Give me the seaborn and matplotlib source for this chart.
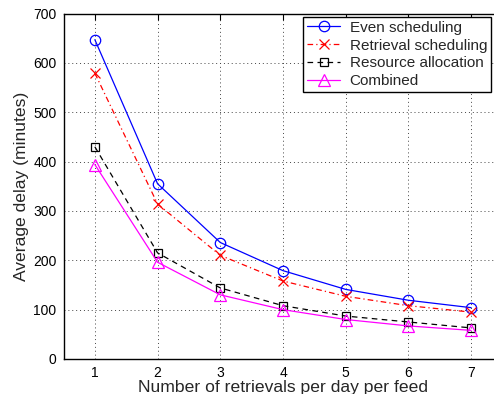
import matplotlib
matplotlib.use("Agg")
import matplotlib.pyplot as plt
import seaborn as sns
import pandas as pd

# Data
retrievals = [1, 2, 3, 4, 5, 6, 7]
even_scheduling = [647, 355, 236, 179, 141, 119, 104]
retrieval_scheduling = [579, 314, 210, 158, 127, 108, 95]
resource_allocation = [430, 215, 144, 108, 87, 75, 63]
combined = [394, 196, 130, 100, 80, 67, 58]
series_names = ["Even scheduling", "Retrieval scheduling", "Resource allocation", "Combined"]
x_ticks = [1, 2, 3, 4, 5, 6, 7]
y_ticks = [0, 100, 200, 300, 400, 500, 600, 700]

sns.set_style("white")
plt.rcParams["font.family"] = ["Liberation Sans", "DejaVu Sans"]

fig = plt.figure(figsize=(4.94, 3.94), dpi=100)
ax = fig.add_axes([63.5 / 494, 35 / 394, 439 / 494, 345.5 / 394])

styles = [
    dict(color=(0, 0, 1), linestyle="-", marker="o", markersize=7.5),
    dict(color=(1, 0, 0), linestyle=(0, (4.5, 2.5, 1, 2.5)), marker="x", markersize=6.5),
    dict(color="black", linestyle=(0, (4.5, 3.5)), marker="s", markersize=6),
    dict(color=(1, 0, 1), linestyle="-", marker="^", markersize=8),
]
values = [even_scheduling, retrieval_scheduling, resource_allocation, combined]

for name, vals, st in zip(series_names, values, styles):
    df = pd.DataFrame({"x": retrievals, "y": vals})
    sns.lineplot(data=df, x="x", y="y", ax=ax, label=name,
                 color=st["color"], linestyle=st["linestyle"], marker=st["marker"],
                 markersize=st["markersize"], markerfacecolor="none",
                 markeredgecolor=st["color"], markeredgewidth=0.9, linewidth=0.9)

ax.set_xlim(0.5, 7.5)
ax.set_ylim(0, 700)
ax.set_xticks(x_ticks)
ax.set_yticks(y_ticks)
ax.grid(True, color="#444444", linestyle=(0, (1, 3)), linewidth=0.7)
ax.tick_params(direction="in", length=4, width=0.8, top=True, right=True,
               labelsize=10, colors="black", pad=5)
for sp in ax.spines.values():
    sp.set_color("black")
    sp.set_linewidth(1.0)

ax.set_xlabel("Number of retrievals per day per feed", fontsize=12.6, labelpad=0)
ax.set_ylabel("Average delay (minutes)", fontsize=12.6, labelpad=3)

leg = ax.legend(loc="upper left", bbox_to_anchor=(303 / 494, 1 - 17 / 394),
                bbox_transform=fig.transFigure, borderaxespad=0,
                fontsize=11, frameon=True, fancybox=False, framealpha=1,
                edgecolor="black", labelspacing=0.25, handlelength=2.2,
                handletextpad=0.6, borderpad=0.25)
leg.get_frame().set_linewidth(1.0)

fig.savefig("out.png", dpi=100)
